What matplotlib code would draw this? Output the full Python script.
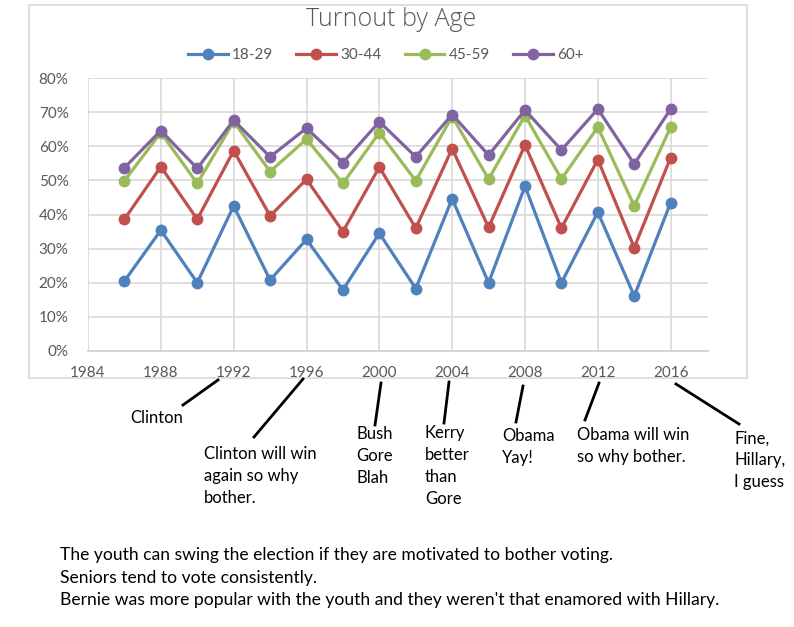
import matplotlib
matplotlib.use("Agg")
import matplotlib.pyplot as plt
from matplotlib.lines import Line2D
from matplotlib.patches import Rectangle

years = [1986, 1988, 1990, 1992, 1994, 1996, 1998, 2000, 2002, 2004, 2006, 2008, 2010, 2012, 2014, 2016]
age_18_29 = [20.5, 35.4, 20.0, 42.5, 20.8, 32.7, 17.9, 34.5, 18.3, 44.6, 20.0, 48.3, 20.0, 40.7, 16.1, 43.5]
age_30_44 = [38.6, 54.0, 38.6, 58.7, 39.6, 50.3, 35.0, 53.9, 36.0, 59.3, 36.2, 60.4, 36.0, 56.1, 30.3, 56.7]
age_45_59 = [49.9, 64.0, 49.1, 67.2, 52.6, 62.1, 49.1, 64.0, 49.9, 68.7, 50.4, 69.0, 50.4, 65.6, 42.5, 65.6]
age_60p = [53.7, 64.6, 53.5, 67.6, 56.9, 65.3, 55.2, 67.2, 56.9, 69.3, 57.4, 70.6, 58.9, 70.9, 54.8, 70.9]

series_names = ["18-29", "30-44", "45-59", "60+"]
series_vals = [age_18_29, age_30_44, age_45_59, age_60p]
series_colors = ["#4f81bd", "#c0504d", "#9bbb59", "#8064a2"]

x_ticks = [1984, 1988, 1992, 1996, 2000, 2004, 2008, 2012, 2016]
y_ticks = [0, 10, 20, 30, 40, 50, 60, 70, 80]

annotations = [
    ("Clinton", (218, 380), (183, 405), (130, 418)),
    ("Clinton will win\nagain so why\nbother.", (303, 379), (254, 437), (204, 476)),
    ("Bush\nGore\nBlah", (381, 383), (375, 425), (356, 456)),
    ("Kerry\nbetter\nthan\nGore", (449, 382), (444, 423), (425, 466)),
    ("Obama\nYay!", (523, 386), (516, 422), (502, 447)),
    ("Obama will win\nso why bother.", (599, 383), (585, 420), (577, 446)),
    ("Fine,\nHillary,\nI guess", (676, 384), (739, 424), (734, 460)),
]

notes = [
    "The youth can swing the election if they are motivated to bother voting.",
    "Seniors tend to vote consistently.",
    "Bernie was more popular with the youth and they weren't that enamored with Hillary.",
]

W, H = 794, 627
fig = plt.figure(figsize=(W / 100, H / 100), dpi=100)
fig.patch.set_facecolor("white")

def fx(x):
    return x / W

def fy(y):
    return 1 - y / H

TXT = ["Lato", "DejaVu Sans"]
GRAY = "#595959"

# chart frame
fig.add_artist(Rectangle((fx(29), fy(378)), fx(747) - fx(29), fy(5) - fy(378),
                         transform=fig.transFigure, fill=False, edgecolor="#d9d9d9", lw=1.2))

ax = fig.add_axes([fx(88), fy(351), fx(708) - fx(88), fy(78) - fy(351)])
for name, vals, col in zip(series_names, series_vals, series_colors):
    ax.plot(years, vals, color=col, lw=2.3, marker="o", markersize=7.5, label=name, zorder=3)

ax.set_xlim(1984, 2018.05)
ax.set_ylim(0, 80)
ax.set_xticks(x_ticks)
ax.set_yticks(y_ticks)
ax.set_yticklabels([f"{v}%" for v in y_ticks])
ax.grid(True, color="#d9d9d9", lw=1.2, zorder=0)
for s in ["top", "right", "left"]:
    ax.spines[s].set_visible(False)
ax.spines["bottom"].set_color("#d0d0d0")
ax.spines["bottom"].set_linewidth(1.2)
ax.tick_params(length=0, labelcolor=GRAY, labelsize=11)
ax.tick_params(axis="y", pad=14)
ax.tick_params(axis="x", pad=11)
for lab in ax.get_xticklabels() + ax.get_yticklabels():
    lab.set_family(TXT)

fig.text(fx(391), fy(19), "Turnout by Age", ha="center", va="center", fontsize=18,
         color=GRAY, family=["Open Sans", "DejaVu Sans"], fontweight="light")

handles = [Line2D([0], [0], color=c, lw=2.3, marker="o", markersize=7.5) for c in series_colors]
leg = fig.legend(handles, series_names, loc="center", bbox_to_anchor=(fx(386), fy(55)), ncol=4,
                 frameon=False, handlelength=2.6, columnspacing=1.5, handletextpad=0.3,
                 prop={"family": TXT, "size": 11})
for t in leg.get_texts():
    t.set_color(GRAY)

for text, p1, p2, tpos in annotations:
    fig.add_artist(Line2D([fx(p1[0]), fx(p2[0])], [fy(p1[1]), fy(p2[1])],
                          transform=fig.transFigure, color="black", lw=2))
    fig.text(fx(tpos[0]), fy(tpos[1]), text, ha="left", va="center", fontsize=12,
             family=TXT, color="black", linespacing=1.45)

for i, n in enumerate(notes):
    fig.text(fx(60), fy(555 + 22.5 * i), n, ha="left", va="center", fontsize=12.6,
             family=TXT, color="black")

fig.savefig("out.png", dpi=100, facecolor="white")
